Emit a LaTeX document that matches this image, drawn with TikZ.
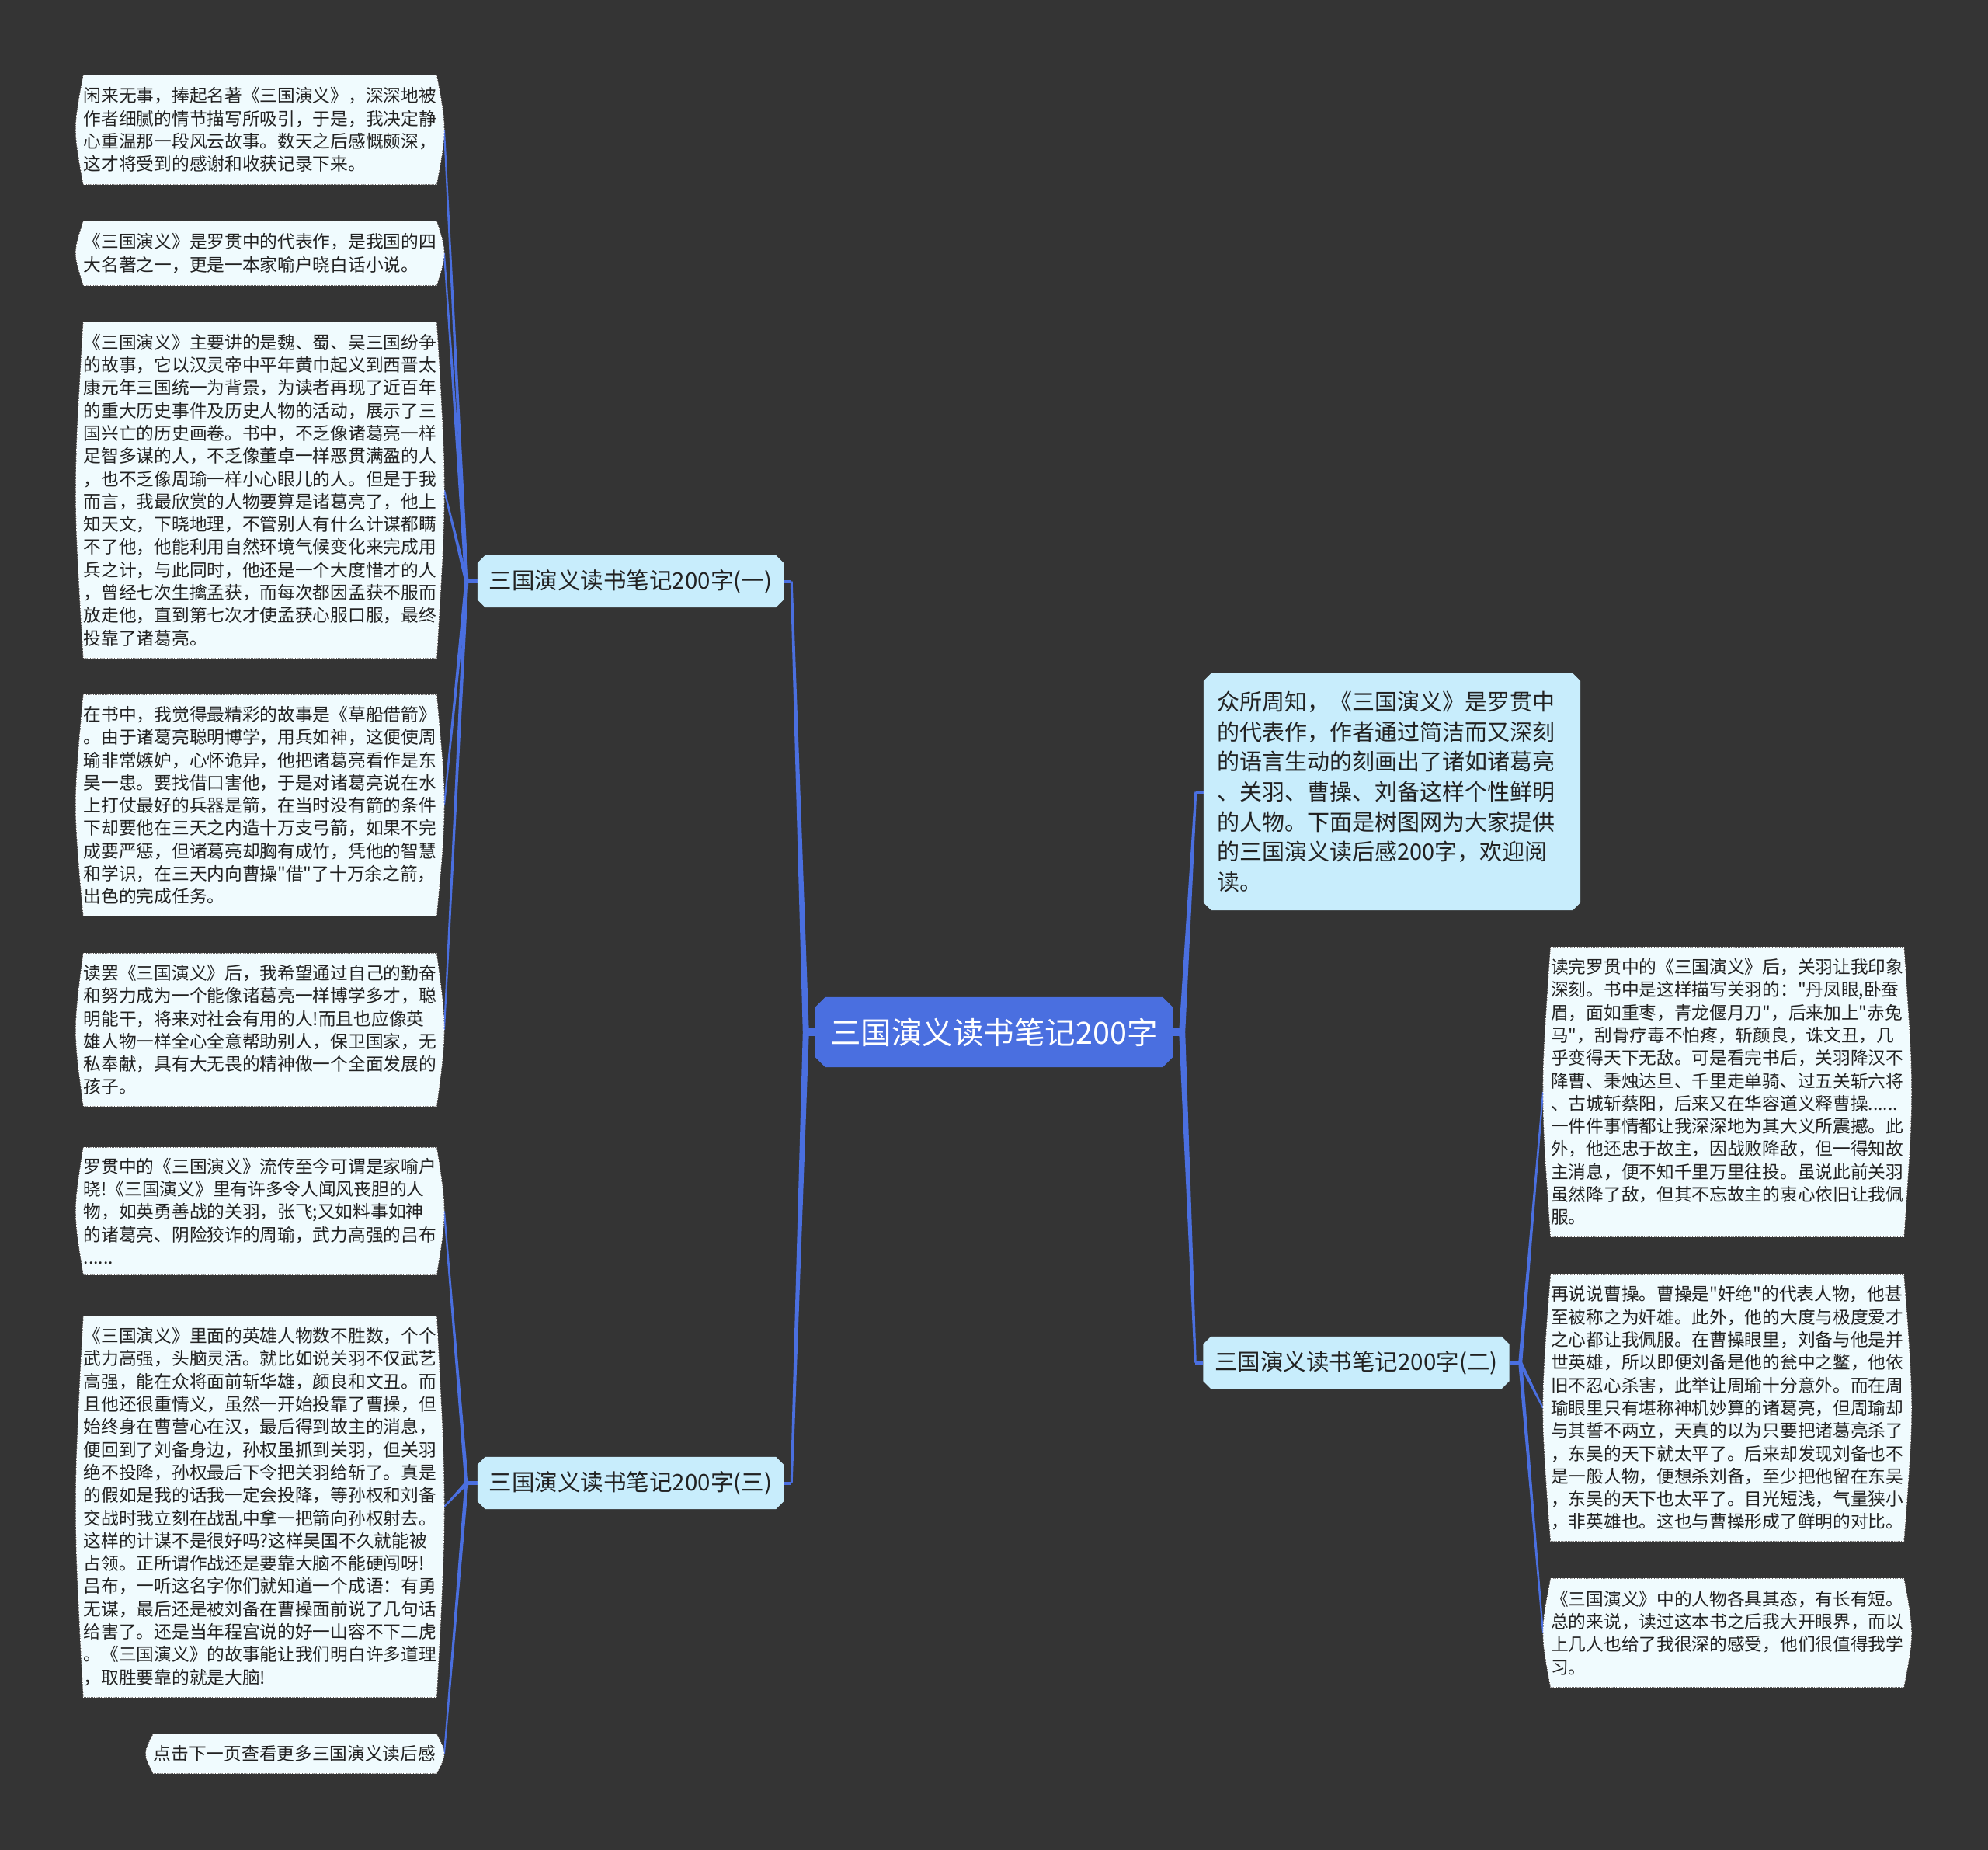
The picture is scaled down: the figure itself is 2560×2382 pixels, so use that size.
\documentclass[tikz,border=0pt]{standalone}
\usepackage{fontspec}
\setmainfont{Noto Sans CJK SC}[Ligatures=TeXOff]
\usepackage{tikz}
\usetikzlibrary{calc, backgrounds}

\definecolor{bgdark}{HTML}{343434}
\definecolor{rootblue}{HTML}{4A6FE0}
\definecolor{branchblue}{HTML}{C8EDFC}
\definecolor{leaffill}{HTML}{F0FBFE}
\definecolor{linkblue}{HTML}{4A6FE0}
\definecolor{inkgray}{HTML}{222222}

\newcommand{\leaffont}{\fontsize{22.7}{29.3}\selectfont}
% tapered link: from, to, half width at start, half width at end
\newcommand{\taperlink}[4]{%
    \fill[linkblue] ($(#1)!#3!90:(#2)$) -- ($(#2)!#4!-90:(#1)$) -- ($(#2)!#4!90:(#1)$) -- ($(#1)!#3!-90:(#2)$) -- cycle;}

\begin{document}
\begin{tikzpicture}[x=1pt, y=-1pt,
    rootnode/.style={minimum width=460pt, minimum height=90pt, inner sep=0pt, text=white, font=\fontsize{39.5}{44}\selectfont},
    branchnode/.style={minimum width=394pt, minimum height=67pt, inner sep=0pt, text=inkgray, font=\fontsize{29.5}{34}\selectfont},
    intronode/.style={minimum height=305pt, inner xsep=17pt, inner ysep=0pt, text width=451pt, align=left, text=inkgray, font=\fontsize{29}{38.7}\selectfont},
    leafnote/.style={inner sep=0pt, text width=454pt, align=left, text=inkgray, font=\leaffont},
    stub/.style={draw=linkblue, line width=#1},
    leafedge/.style={fill=leaffill, draw=white, densely dotted, line width=1.2pt}]

    \useasboundingbox (0,0) rectangle (2560,2382);

    % Root and branches
    \node[rootnode] (root) at (1280,1329) {三国演义读书笔记200字};
    \node[branchnode] (b1) at (812,748.5) {三国演义读书笔记200字(一)};
    \node[branchnode] (b3) at (812,1909.5) {三国演义读书笔记200字(三)};
    \node[branchnode] (b2) at (1746.5,1754.5) {三国演义读书笔记200字(二)};

    % Intro text
    \node[intronode] (intro) at (1792.5,1019.5) {众所周知，《三国演义》是罗贯中\\的代表作，作者通过简洁而又深刻\\的语言生动的刻画出了诸如诸葛亮\\、关羽、曹操、刘备这样个性鲜明\\的人物。下面是树图网为大家提供\\的三国演义读后感200字，欢迎阅\\读。};

    % Left leaves, branch (一)
    \node[leafnote, anchor=east, minimum height=140pt] (l1) at (562,167) {闲来无事，捧起名著《三国演义》，深深地被\\作者细腻的情节描写所吸引，于是，我决定静\\心重温那一段风云故事。数天之后感慨颇深，\\这才将受到的感谢和收获记录下来。};
    \node[leafnote, anchor=east, minimum height=82pt] (l2) at (562,326) {《三国演义》是罗贯中的代表作，是我国的四\\大名著之一，更是一本家喻户晓白话小说。};
    \node[leafnote, anchor=east, minimum height=432pt] (l3) at (562,631) {《三国演义》主要讲的是魏、蜀、吴三国纷争\\的故事，它以汉灵帝中平年黄巾起义到西晋太\\康元年三国统一为背景，为读者再现了近百年\\的重大历史事件及历史人物的活动，展示了三\\国兴亡的历史画卷。书中，不乏像诸葛亮一样\\足智多谋的人，不乏像董卓一样恶贯满盈的人\\，也不乏像周瑜一样小心眼儿的人。但是于我\\而言，我最欣赏的人物要算是诸葛亮了，他上\\知天文，下晓地理，不管别人有什么计谋都瞒\\不了他，他能利用自然环境气候变化来完成用\\兵之计，与此同时，他还是一个大度惜才的人\\，曾经七次生擒孟获，而每次都因孟获不服而\\放走他，直到第七次才使孟获心服口服，最终\\投靠了诸葛亮。};
    \node[leafnote, anchor=east, minimum height=284pt] (l4) at (562,1037) {在书中，我觉得最精彩的故事是《草船借箭》\\。由于诸葛亮聪明博学，用兵如神，这便使周\\瑜非常嫉妒，心怀诡异，他把诸葛亮看作是东\\吴一患。要找借口害他，于是对诸葛亮说在水\\上打仗最好的兵器是箭，在当时没有箭的条件\\下却要他在三天之内造十万支弓箭，如果不完\\成要严惩，但诸葛亮却胸有成竹，凭他的智慧\\和学识，在三天内向曹操"借"了十万余之箭，\\出色的完成任务。};
    \node[leafnote, anchor=east, minimum height=196pt] (l5) at (562,1326) {读罢《三国演义》后，我希望通过自己的勤奋\\和努力成为一个能像诸葛亮一样博学多才，聪\\明能干，将来对社会有用的人!而且也应像英\\雄人物一样全心全意帮助别人，保卫国家，无\\私奉献，具有大无畏的精神做一个全面发展的\\孩子。};

    % Left leaves, branch (三)
    \node[leafnote, anchor=east, minimum height=163pt] (l6) at (562,1559.5) {罗贯中的《三国演义》流传至今可谓是家喻户\\晓!《三国演义》里有许多令人闻风丧胆的人\\物，如英勇善战的关羽，张飞;又如料事如神\\的诸葛亮、阴险狡诈的周瑜，武力高强的吕布\\......};
    \node[leafnote, anchor=east, minimum height=490pt] (l7) at (562,1940) {《三国演义》里面的英雄人物数不胜数，个个\\武力高强，头脑灵活。就比如说关羽不仅武艺\\高强，能在众将面前斩华雄，颜良和文丑。而\\且他还很重情义，虽然一开始投靠了曹操，但\\始终身在曹营心在汉，最后得到故主的消息，\\便回到了刘备身边，孙权虽抓到关羽，但关羽\\绝不投降，孙权最后下令把关羽给斩了。真是\\的假如是我的话我一定会投降，等孙权和刘备\\交战时我立刻在战乱中拿一把箭向孙权射去。\\这样的计谋不是很好吗?这样吴国不久就能被\\占领。正所谓作战还是要靠大脑不能硬闯呀!\\吕布，一听这名字你们就知道一个成语：有勇\\无谋，最后还是被刘备在曹操面前说了几句话\\给害了。还是当年程宫说的好一山容不下二虎\\。《三国演义》的故事能让我们明白许多道理\\，取胜要靠的就是大脑!};
    \node[leafnote, anchor=east, minimum height=50pt, text width=364pt] (l8) at (562,2258) {点击下一页查看更多三国演义读后感};

    % Right leaves, branch (二)
    \node[leafnote, anchor=west, minimum height=372pt] (r1) at (1997,1406) {读完罗贯中的《三国演义》后，关羽让我印象\\深刻。书中是这样描写关羽的："丹凤眼,卧蚕\\眉，面如重枣，青龙偃月刀"，后来加上"赤兔\\马"，刮骨疗毒不怕疼，斩颜良，诛文丑，几\\乎变得天下无敌。可是看完书后，关羽降汉不\\降曹、秉烛达旦、千里走单骑、过五关斩六将\\、古城斩蔡阳，后来又在华容道义释曹操......\\一件件事情都让我深深地为其大义所震撼。此\\外，他还忠于故主，因战败降敌，但一得知故\\主消息，便不知千里万里往投。虽说此前关羽\\虽然降了敌，但其不忘故主的衷心依旧让我佩\\服。};
    \node[leafnote, anchor=west, minimum height=342pt] (r2) at (1997,1813) {再说说曹操。曹操是"奸绝"的代表人物，他甚\\至被称之为奸雄。此外，他的大度与极度爱才\\之心都让我佩服。在曹操眼里，刘备与他是并\\世英雄，所以即便刘备是他的瓮中之鳖，他依\\旧不忍心杀害，此举让周瑜十分意外。而在周\\瑜眼里只有堪称神机妙算的诸葛亮，但周瑜却\\与其誓不两立，天真的以为只要把诸葛亮杀了\\，东吴的天下就太平了。后来却发现刘备也不\\是一般人物，便想杀刘备，至少把他留在东吴\\，东吴的天下也太平了。目光短浅，气量狭小\\，非英雄也。这也与曹操形成了鲜明的对比。};
    \node[leafnote, anchor=west, minimum height=139pt] (r3) at (1997,2102.5) {《三国演义》中的人物各具其态，有长有短。\\总的来说，读过这本书之后我大开眼界，而以\\上几人也给了我很深的感受，他们很值得我学\\习。};

    % Stub ends
    \coordinate (rootL) at ($(root.west)+(-12,0)$);
    \coordinate (rootR) at ($(root.east)+(12,0)$);
    \coordinate (b1R) at ($(b1.east)+(10,0)$);
    \coordinate (b3R) at ($(b3.east)+(10,0)$);
    \coordinate (b2L) at ($(b2.west)+(-10,0)$);
    \coordinate (introL) at ($(intro.west)+(-10,0)$);
    \coordinate (b1L) at ($(b1.west)+(-14,0)$);
    \coordinate (b3L) at ($(b3.west)+(-14,0)$);
    \coordinate (b2R) at ($(b2.east)+(14,0)$);
    \foreach \n in {l1,l2,l3,l4,l5,l6,l7,l8}
        \coordinate (\n-tip) at ($(\n.east)+(10,0)$);
    \foreach \n in {r1,r2,r3}
        \coordinate (\n-tip) at ($(\n.west)+(-10,0)$);

    \begin{pgfonlayer}{background}
        % Canvas
        \fill[bgdark] (0,0) rectangle (2560,2382);

        % Links from root
        \draw[stub=10pt] (root.west) -- (rootL);
        \draw[stub=10pt] (root.east) -- (rootR);
        \draw[stub=4pt] (b1.east) -- (b1R);
        \draw[stub=4pt] (b3.east) -- (b3R);
        \draw[stub=4pt] (b2.west) -- (b2L);
        \draw[stub=4pt] (intro.west) -- (introL);
        \taperlink{rootL}{b1R}{4pt}{1.5pt}
        \taperlink{rootL}{b3R}{4pt}{1.5pt}
        \taperlink{rootR}{introL}{4pt}{1.5pt}
        \taperlink{rootR}{b2L}{4pt}{1.5pt}

        % Links to leaves
        \draw[stub=5pt] (b1.west) -- (b1L);
        \draw[stub=5pt] (b3.west) -- (b3L);
        \draw[stub=5pt] (b2.east) -- (b2R);
        \foreach \n in {l1,l2,l3,l4,l5}
            {\taperlink{b1L}{\n-tip}{2.5pt}{1pt}}
        \foreach \n in {l6,l7,l8}
            {\taperlink{b3L}{\n-tip}{2.5pt}{1pt}}
        \foreach \n in {r1,r2,r3}
            {\taperlink{b2R}{\n-tip}{2.5pt}{1pt}}

        % Cut-corner boxes
        \foreach \n/\c/\k in {root/rootblue/13, b1/branchblue/10, b2/branchblue/10, b3/branchblue/10, intro/branchblue/10}
            \fill[\c] ($(\n.north west)+(\k,0)$) -- ($(\n.north east)+(-\k,0)$) -- ($(\n.north east)+(0,\k)$)
                -- ($(\n.south east)+(0,-\k)$) -- ($(\n.south east)+(-\k,0)$) -- ($(\n.south west)+(\k,0)$)
                -- ($(\n.south west)+(0,-\k)$) -- ($(\n.north west)+(0,\k)$) -- cycle;

        % Leaf boxes with bulging sides
        \foreach \n in {l1,l2,l3,l4,l5,l6,l7,l8,r1,r2,r3}
            \path[leafedge] (\n.north west) -- (\n.north east) .. controls ($(\n.east)+(13,0)$) .. (\n.south east)
                -- (\n.south west) .. controls ($(\n.west)+(-13,0)$) .. (\n.north west) -- cycle;
    \end{pgfonlayer}

\end{tikzpicture}
\end{document}
